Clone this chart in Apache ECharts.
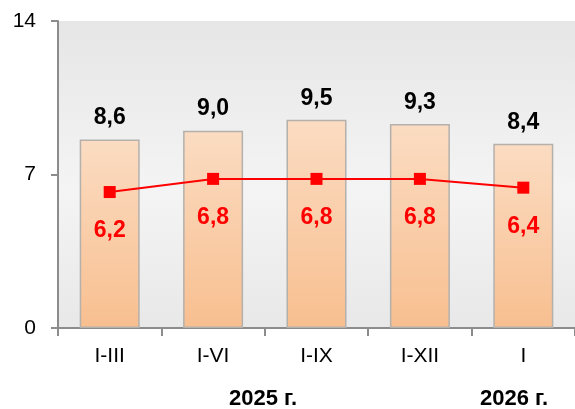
<!DOCTYPE html>
<html><head><meta charset="utf-8">
<script src="https://cdn.jsdelivr.net/npm/echarts@6/dist/echarts.min.js"></script>
<style>html,body{margin:0;padding:0;background:#fff}#c{width:575px;height:409px}</style>
</head><body><div id="c"></div>
<script>
const categories = ['I-III', 'I-VI', 'I-IX', 'I-XII', 'I'];
const barValues = [8.6, 9.0, 9.5, 9.3, 8.4];
const lineValues = [6.2, 6.8, 6.8, 6.8, 6.4];
const yTicks = [0, 7, 14];
const yearLabels = ['2025 г.', '2026 г.'];

const FF = 'Liberation Sans, Arial, sans-serif';
const fmt = v => String(v.toFixed(1)).replace('.', ',');
const chart = echarts.init(document.getElementById('c'), null, {renderer: 'canvas'});
chart.setOption({
  animation: false,
  textStyle: {fontFamily: FF},
  grid: {
    left: 58, right: 0, top: 21, bottom: 81, show: true, borderWidth: 0,
    backgroundColor: {type: 'linear', x: 0, y: 0, x2: 0, y2: 1, colorStops: [
      {offset: 0, color: '#e6e6e6'}, {offset: 0.55, color: '#f4f4f4'}, {offset: 1, color: '#e8e8e8'}]}
  },
  xAxis: {
    type: 'category', data: categories,
    axisLine: {lineStyle: {color: '#8c8c8c', width: 2}},
    axisTick: {show: true, length: 8, lineStyle: {color: '#8c8c8c', width: 2}},
    axisLabel: {color: '#000', fontSize: 21, margin: 18, fontFamily: FF}
  },
  yAxis: {
    type: 'value', min: yTicks[0], max: yTicks[2], interval: 7,
    axisLine: {show: true, lineStyle: {color: '#8c8c8c', width: 2}},
    axisTick: {show: true, length: 7, lineStyle: {color: '#8c8c8c', width: 2}},
    splitLine: {show: false},
    axisLabel: {color: '#000', fontSize: 21, margin: 22, fontFamily: FF}
  },
  series: [{
    type: 'bar', data: barValues, barWidth: 60,
    itemStyle: {
      borderColor: '#b4b0ac', borderWidth: 1.5,
      color: {type: 'linear', x: 0, y: 0, x2: 0, y2: 1, colorStops: [
        {offset: 0, color: '#fbdcc2'}, {offset: 1, color: '#f8bf90'}]}
    },
    label: {show: true, position: 'top', distance: 10, color: '#000', fontSize: 23, fontWeight: 'bold', fontFamily: FF,
      formatter: p => fmt(p.value)}
  }, {
    type: 'line', data: lineValues, symbol: 'rect', symbolSize: 12,
    lineStyle: {color: '#ff0000', width: 2}, itemStyle: {color: '#ff0000'},
    label: {show: true, position: 'bottom', distance: 21, color: '#ff0000', fontSize: 23, fontWeight: 'bold', fontFamily: FF,
      formatter: p => fmt(p.value)}
  }],
  graphic: [
    {type: 'text', left: 229, top: 388, style: {text: yearLabels[0], fontSize: 22, fontWeight: 'bold', fill: '#000', fontFamily: FF}},
    {type: 'text', left: 480, top: 388, style: {text: yearLabels[1], fontSize: 22, fontWeight: 'bold', fill: '#000', fontFamily: FF}}
  ]
});
</script></body></html>
